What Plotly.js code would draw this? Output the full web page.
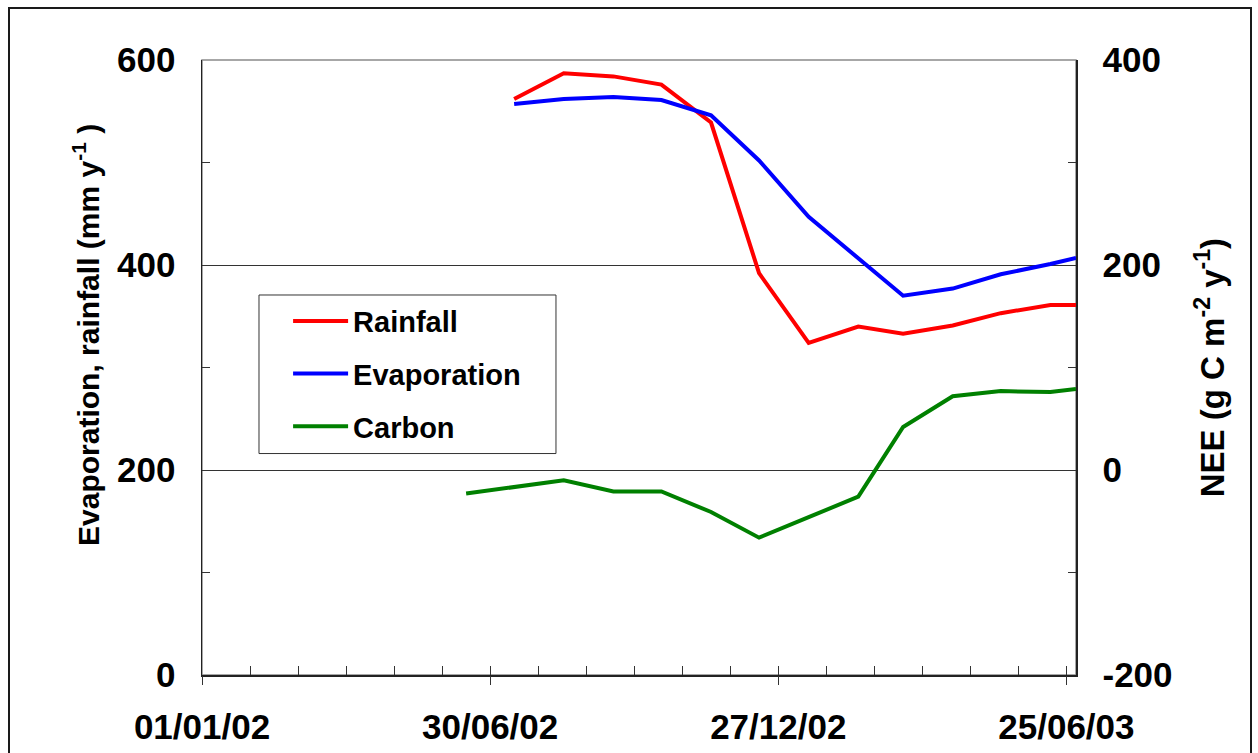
<!DOCTYPE html>
<html>
<head>
<meta charset="utf-8">
<script src="https://cdn.plot.ly/plotly-3.0.1.min.js"></script>
<style>
  html, body { margin: 0; padding: 0; background: #fff; }
  #wrap { position: relative; width: 1258px; height: 753px; overflow: hidden; }
  #chart { width: 1258px; height: 753px; }
  #frame { position: absolute; left: 8px; top: 7px; width: 1240px; height: 800px;
           border: 2px solid #1a1a1a; pointer-events: none; }
</style>
</head>
<body>
<div id="wrap"><div id="chart"></div><div id="frame"></div></div>
<script>
// Monthly observation dates
const dates = ['2002-06-15', '2002-07-15', '2002-08-15', '2002-09-15', '2002-10-15',
               '2002-11-15', '2002-12-15', '2003-01-15', '2003-02-15', '2003-03-15',
               '2003-04-15', '2003-05-15', '2003-06-15', '2003-07-01'];

// Annual rates (mm y-1)
const rainfall    = [null, 562, 587, 584, 576, 539, 392, 324, 340, 333, 341, 353, 361, 361];
const evaporation = [null, 557, 562, 564, 561, 546, 502, 447, 406, 370, 377, 391, 401, 407];

// Net ecosystem exchange (g C m-2 y-1)
const carbon = [-23, -17, -10, -21, -21, -41, -66, -46, -26, 42, 72, 77, 76, 79];

// Axis labels
const xTickVals = ['2002-01-01', '2002-06-30', '2002-12-27', '2003-06-25'];
const xTickText = ['01/01/02', '30/06/02', '27/12/02', '25/06/03'];
const xRange = ['2002-01-01', '2003-07-01'];
const yLeftTicks = [0, 200, 400, 600];
const yRightTicks = [-200, 0, 200, 400];
const yRightText = ['-200', '0', '200', '400'];

const FONT = 'Liberation Sans, Arial, Helvetica, sans-serif';
const DAY = 86400000;

const traces = [
  { x: dates, y: rainfall, name: 'Rainfall', type: 'scatter', mode: 'lines',
    line: { color: '#ff0000', width: 4 }, legendgroup: 'r', xaxis: 'x', yaxis: 'y' },
  { x: dates, y: evaporation, name: 'Evaporation', type: 'scatter', mode: 'lines',
    line: { color: '#0000ff', width: 4 }, legendgroup: 'e', xaxis: 'x', yaxis: 'y' },
  { x: dates, y: carbon, name: 'Carbon', type: 'scatter', mode: 'lines',
    line: { color: '#008000', width: 4 }, legendgroup: 'c', xaxis: 'x2', yaxis: 'y2' }
];

const layout = {
  width: 1258, height: 753,
  margin: { l: 202, r: 182, t: 60, b: 78 },
  paper_bgcolor: '#fff', plot_bgcolor: '#fff',
  font: { family: FONT, color: '#000', size: 35, weight: 'bold' },
  showlegend: true,
  legend: {
    x: 0.0985, y: 0.617, xanchor: 'left', yanchor: 'top',
    bgcolor: 'rgba(0,0,0,0)', borderwidth: 0, itemwidth: 55,
    font: { family: FONT, size: 29, weight: 'bold', color: '#000' },
    tracegroupgap: 12, traceorder: 'grouped'
  },
  // minor 30-day ticks (inside) for the date axis
  xaxis: {
    type: 'date', range: xRange, tickmode: 'linear', tick0: xRange[0], dtick: 30 * DAY,
    ticks: 'inside', ticklen: 9, tickwidth: 1, tickcolor: '#333',
    showticklabels: false, showgrid: false, zeroline: false,
    showline: true, linecolor: '#222', linewidth: 1.5
  },
  // labelled major ticks crossing the axis
  xaxis2: {
    type: 'date', range: xRange, overlaying: 'x', anchor: 'y', side: 'bottom',
    tickmode: 'array', tickvals: xTickVals, ticktext: xTickText,
    ticks: 'outside', ticklen: 9, tickwidth: 1, tickcolor: '#333',
    ticklabelstandoff: 12,
    tickfont: { family: FONT, size: 35, weight: 'bold', color: '#000' },
    showgrid: false, zeroline: false, showline: false
  },
  yaxis: {
    range: [0, 600], tickmode: 'array', tickvals: yLeftTicks,
    ticks: 'inside', ticklen: 8, tickwidth: 1, tickcolor: '#333',
    minor: { dtick: 100, ticks: 'inside', ticklen: 8, tickcolor: '#333', showgrid: false },
    ticklabelstandoff: 18,
    tickfont: { family: FONT, size: 35, weight: 'bold', color: '#000' },
    showgrid: true, gridcolor: '#333', gridwidth: 1,
    zeroline: false, showline: true, linecolor: '#222', linewidth: 1.5
  },
  yaxis2: {
    range: [-200, 400], overlaying: 'y', side: 'right', anchor: 'x',
    tickmode: 'array', tickvals: yRightTicks, ticktext: yRightText,
    ticks: 'inside', ticklen: 8, tickwidth: 1, tickcolor: '#333',
    minor: { dtick: 100, ticks: 'inside', ticklen: 8, tickcolor: '#333', showgrid: false },
    ticklabelstandoff: 18,
    tickfont: { family: FONT, size: 35, weight: 'bold', color: '#000' },
    showgrid: false, zeroline: false, showline: true, linecolor: '#222', linewidth: 1.5
  },
  shapes: [
    // plot-area border
    { type: 'rect', xref: 'paper', yref: 'paper', x0: 0, x1: 1, y0: 0, y1: 1,
      line: { color: '#8a8a8a', width: 1.5 }, layer: 'below' },
    // legend frame
    { type: 'rect', xref: 'paper', yref: 'paper', x0: 0.0652, x1: 0.4050, y0: 0.3601, y1: 0.6179,
      line: { color: '#333', width: 1 }, fillcolor: 'rgba(0,0,0,0)', layer: 'above' }
  ],
  annotations: [
    { text: 'Evaporation, rainfall (mm y<sup>-1</sup> )', xref: 'paper', yref: 'paper',
      x: -0.1327, y: 0.553, xanchor: 'center', yanchor: 'middle', textangle: -90,
      showarrow: false, font: { family: FONT, size: 30, weight: 'bold', color: '#000' } },
    { text: 'NEE (g C m<sup>-2</sup> y<sup>-1</sup>)', xref: 'paper', yref: 'paper',
      x: 1.153, y: 0.5, xanchor: 'center', yanchor: 'middle', textangle: -90,
      showarrow: false, font: { family: FONT, size: 33, weight: 'bold', color: '#000' } }
  ]
};

Plotly.newPlot('chart', traces, layout, { displayModeBar: false, staticPlot: true });
</script>
</body>
</html>
